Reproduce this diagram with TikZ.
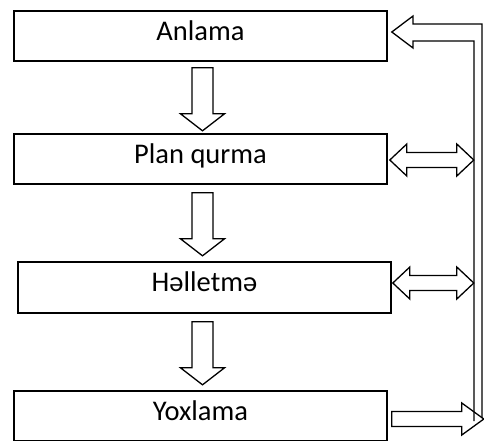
\documentclass[tikz,border=0pt]{standalone}
\usepackage{fontspec}
\setmainfont{Carlito}
\usetikzlibrary{calc}

\begin{document}
\begin{tikzpicture}[
		x=1pt, y=-1pt,
		stepbox/.style={draw, line width=1.6pt, minimum width=373pt, minimum height=50pt,
			inner sep=0pt, text height=19pt, text depth=11pt,
			font=\fontsize{28.5}{32}\selectfont},
		hollow/.style={draw, fill=white, line width=1.3pt, line join=miter}
		]
		\useasboundingbox (0,0) rectangle (484,440);
		\clip (0,0) rectangle (484,440);

		\node[stepbox] (anl) at (200.5,36) {Anlama};
		\node[stepbox] (plan) at (200.5,159) {Plan qurma};
		\node[stepbox, minimum height=51pt] (hel) at (204.5,287.5) {Həlletmə};
		\node[stepbox] (yox) at (200.5,416) {Yoxlama};

		% down arrows
		\draw[hollow] ($(anl.south)+(-8.5,6)$) -- ++(21,0) -- ++(0,46) -- ++(11.5,0)
			-- ++(-22,17) -- ++(-22,-17) -- ++(11.5,0) -- cycle;
		\draw[hollow] ($(plan.south)+(-8.5,8)$) -- ++(21,0) -- ++(0,46) -- ++(11.5,0)
			-- ++(-22,17) -- ++(-22,-17) -- ++(11.5,0) -- cycle;
		\draw[hollow] ($(hel.south)+(-12.5,8)$) -- ++(21,0) -- ++(0,46) -- ++(11.5,0)
			-- ++(-22,17) -- ++(-22,-17) -- ++(11.5,0) -- cycle;

		% Yoxlama back to the rail
		\coordinate (back) at (482,418);
		\draw[hollow] ($(yox.east)+(4,-4.5)$) -- ++(70,0) -- ++(0,-8.5) -- ++(22,16)
			-- ++(-22,16) -- ++(0,-8.5) -- ++(-70,0) -- cycle;

		% double arrows
		\draw[hollow] ($(plan.east)+(2,1)$) -- ++(17,-16) -- ++(0,8.5) -- ++(50,0) -- ++(0,-8.5)
			-- ++(17,16) -- ++(-17,16) -- ++(0,-8.5) -- ++(-50,0) -- ++(0,8.5) -- cycle;
		\draw[hollow] ($(hel.east)+(1,-4.5)$) -- ++(17,-16) -- ++(0,8.5) -- ++(47,0) -- ++(0,-8.5)
			-- ++(17,16) -- ++(-17,16) -- ++(0,-8.5) -- ++(-47,0) -- ++(0,8.5) -- cycle;

		% rail back to Anlama
		\draw[hollow, fill=none] (back) -- (482,24) -- (413,24) -- (413,16)
			-- ($(anl.east)+(4,-4)$) -- (413,48) -- (413,41) -- (474,41) -- (474,421);
	\end{tikzpicture}
\end{document}
